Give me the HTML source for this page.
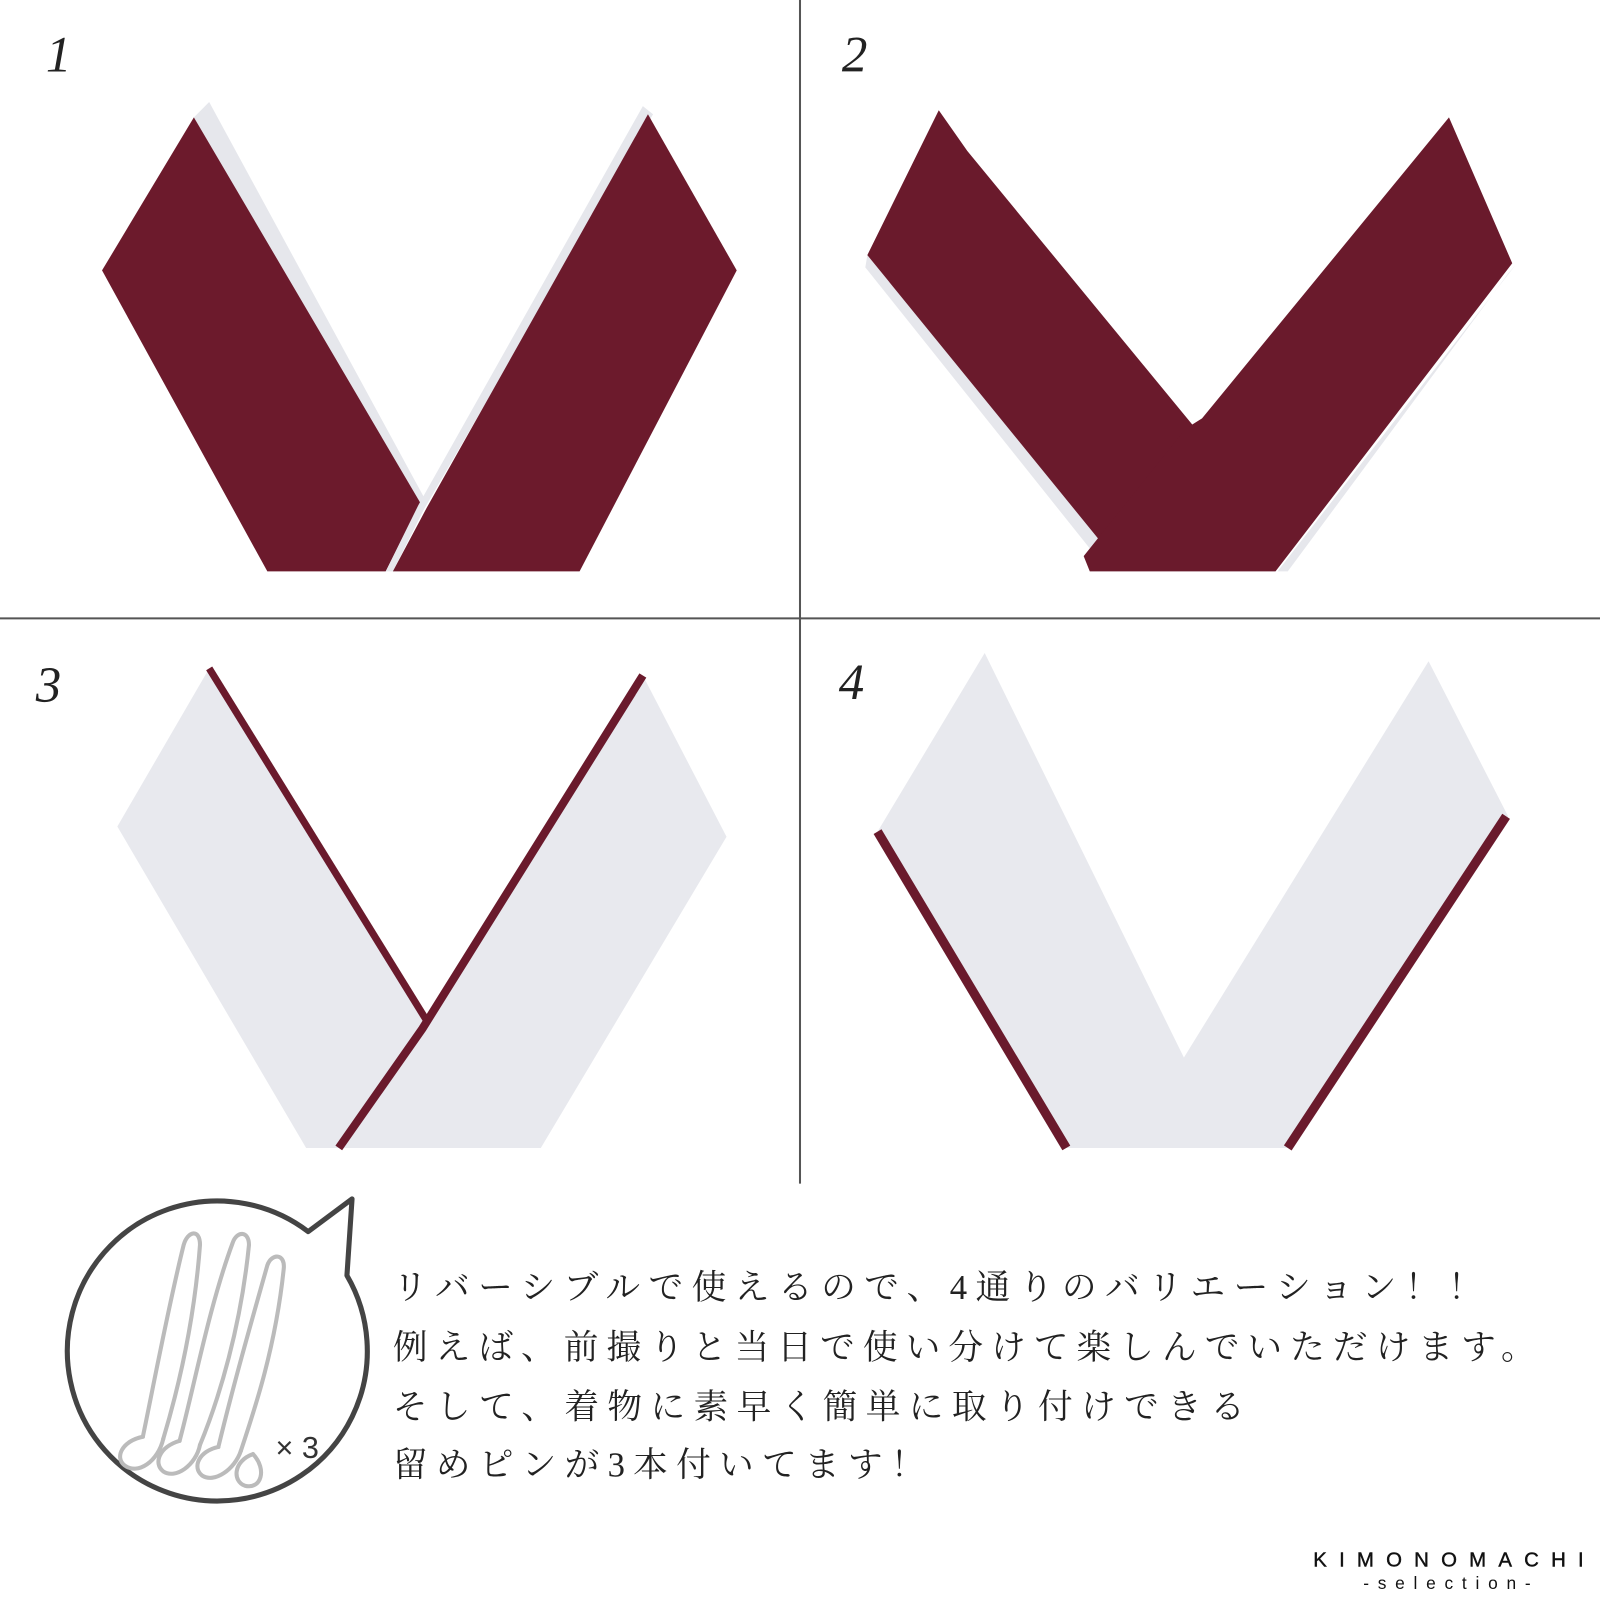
<!DOCTYPE html>
<html><head><meta charset="utf-8"><style>html,body{margin:0;padding:0;background:#fff}svg{display:block}</style></head>
<body>
<svg width="1600" height="1600" viewBox="0 0 1568 1568" xmlns="http://www.w3.org/2000/svg">
<rect width="1568" height="1568" fill="#fff"/>
<line x1="784" y1="0" x2="784" y2="1160" stroke="#555" stroke-width="2"/>
<line x1="0" y1="606" x2="1568" y2="606" stroke="#555" stroke-width="2"/>
<g font-family="'Liberation Serif',serif" font-style="italic" font-size="50" fill="#222">
<text x="45" y="70">1</text><text x="825" y="70">2</text><text x="35" y="688">3</text><text x="822" y="685">4</text>
</g>
<polygon points="190,115 205,100 418,492 410,497" fill="#e6e7ec"/>
<polygon points="190,115 100,265 262,560 378,560 412,493" fill="#6c1a2c"/>
<polygon points="630,104 640,112 415,500 385,560 378,560 410,495" fill="#e6e7ec"/>
<polygon points="635,112 722,265 568,560 385,560 418,498" fill="#6c1a2c"/>
<polygon points="850,250 848,262 1070,540 1080,530" fill="#e6e7ec"/>
<polygon points="920,108 850,250 1078,530 1170,418 948,148" fill="#6a1a2c"/>
<polygon points="1485,260 1478,268 1262,560 1252,560" fill="#e6e7ec"/>
<polygon points="1420,115 1482,258 1250,560 1068,560 1062,545 1162,420 1178,410" fill="#6a1a2c"/>
<polygon points="205,655 115,810 300,1125 410,1125 418,1000" fill="#e8e9ee"/>
<polyline points="205,655 418,1000" stroke="#6a1a2c" stroke-width="7" fill="none"/>
<polygon points="630,662 712,820 530,1125 330,1125 410,1008" fill="#e8e9ee"/>
<polyline points="630,662 414,1008 332,1125" stroke="#6a1a2c" stroke-width="8" fill="none"/>
<polygon points="965,640 860,815 1040,1125 1148,1125 1162,1040" fill="#e8e9ee"/>
<polyline points="860,815 1045,1125" stroke="#6a1a2c" stroke-width="9" fill="none"/>
<polygon points="1400,648 1478,800 1265,1125 1085,1125 1158,1040" fill="#e8e9ee"/>
<polyline points="1476,800 1262,1125" stroke="#6a1a2c" stroke-width="9" fill="none"/>
<path d="M340,1250 L345,1175 L302,1207 A147,147 0 1 0 340,1250 Z" fill="#fff" stroke="#444" stroke-width="5" stroke-linejoin="round"/>
<g fill="none" stroke="#bbb" stroke-width="4" stroke-linecap="round">
<path d="M140,1408 C150,1360 165,1280 180,1220 C184,1206 196,1204 196,1220 C190,1300 172,1370 160,1410"/>
<path d="M140,1408 C120,1412 112,1428 122,1436 C135,1446 155,1432 160,1410"/>
<path d="M176,1412 C190,1360 205,1280 228,1218 C232,1206 244,1206 244,1220 C236,1300 215,1370 196,1416"/>
<path d="M176,1412 C156,1418 150,1434 160,1442 C172,1450 192,1436 196,1416"/>
<path d="M214,1418 C228,1360 245,1300 262,1240 C266,1228 280,1228 278,1244 C270,1320 250,1380 236,1422"/>
<path d="M214,1418 C195,1422 188,1438 198,1446 C210,1454 230,1440 236,1422"/>
<path d="M248,1425 C228,1432 228,1452 240,1456 C256,1460 262,1440 248,1425"/>
</g>
<text x="270" y="1429" font-family="'Liberation Sans',sans-serif" font-size="30" fill="#333">× 3</text>
<g font-family="'Liberation Serif','Noto Serif CJK SC',serif" font-size="34" fill="#222">
<text x="385" y="1273" textLength="1068" lengthAdjust="spacing">リバーシブルで使えるので、4通りのバリエーション！！</text>
<text x="385" y="1332" textLength="1120" lengthAdjust="spacing">例えば、前撮りと当日で使い分けて楽しんでいただけます。</text>
<text x="385" y="1390" textLength="835" lengthAdjust="spacing">そして、着物に素早く簡単に取り付けできる</text>
<text x="385" y="1447" textLength="522" lengthAdjust="spacing">留めピンが3本付いてます！</text>
</g>
<g font-family="'Liberation Sans',sans-serif" fill="#111">
<text x="1287" y="1535" font-size="20" textLength="265" lengthAdjust="spacing" stroke="#111" stroke-width="0.4">KIMONOMACHI</text>
<text x="1336" y="1557" font-size="17" textLength="164" lengthAdjust="spacing">-selection-</text>
</g>
</svg>
</body></html>
